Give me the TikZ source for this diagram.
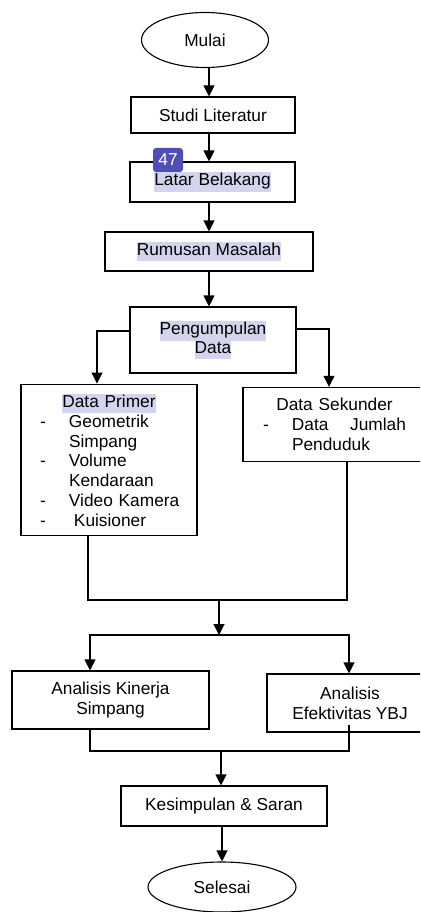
\documentclass[tikz,border=0pt]{standalone}
\usepackage{fontspec}
\setmainfont{Liberation Sans}
\usepackage{xcolor}
\usetikzlibrary{positioning, arrows.meta, calc, shapes.geometric}
\definecolor{hlcol}{HTML}{D4D4EE}
\definecolor{badgecol}{HTML}{4E4EB6}
\newcommand{\hl}[1]{{\setlength{\fboxsep}{0pt}\colorbox{hlcol}{\strut #1}}}

\begin{document}
\begin{tikzpicture}[x=1pt, y=-1pt,
    font=\fontsize{17.3}{19.8}\selectfont,
    box/.style={draw, line width=1.1pt, rectangle, align=center, inner sep=0pt},
    term/.style={draw, line width=1.1pt, ellipse, inner sep=0pt},
    arr/.style={line width=1.1pt, -{Triangle[width=11pt,length=11pt]}},
    ln/.style={line width=1.1pt}]
    \useasboundingbox (0,0) rectangle (420,912);
    \clip (0,0) rectangle (420,912);

    % Start / end
    \node[term, minimum width=127pt, minimum height=55pt] (mulai) at (205,40) {Mulai};
    \node[term, minimum width=148pt, minimum height=50pt] (selesai) at (222,887) {Selesai};

    % Main column
    \node[box, minimum width=164pt, minimum height=36pt] (studi) at (213,115) {Studi Literatur};
    \node[box, minimum width=165pt, minimum height=40pt] (latar) at (212.5,182) {\hl{Latar Belakang}};
    \node[box, minimum width=208pt, minimum height=39pt] (rumusan) at (209,251.5) {\hl{Rumusan Masalah}};
    \node[box, minimum width=166pt, minimum height=66pt] (kumpul) at (213,340) {\hl{Pengumpulan}\\[-1pt]\hl{Data}};

    % Data boxes
    \node[box, align=left, text width=138pt, inner xsep=19pt, inner ysep=9.5pt] (primer) at (109,460)
        {\makebox[138pt]{\hl{Data Primer}}\\
         \mbox{\makebox[29pt][l]{-}Geometrik}\\
         \mbox{\hspace*{29pt}Simpang}\\
         \mbox{\makebox[29pt][l]{-}Volume}\\
         \mbox{\hspace*{29pt}Kendaraan}\\
         \makebox[138pt][l]{\makebox[29pt][l]{-}Video Kamera}\\
         \mbox{\makebox[34pt][l]{-}Kuisioner}};
    \node[box, align=left, text width=143pt, inner xsep=20pt, inner ysep=11pt] (sekunder) at (334.5,424.5)
        {\makebox[143pt]{Data Sekunder}\\
         \makebox[29pt][l]{-}\makebox[114pt][s]{Data\hfill Jumlah}\\
         \mbox{\hspace*{29pt}Penduduk}};

    % Analysis boxes
    \node[box, minimum width=197pt, minimum height=58pt] (kinerja) at (110.5,700) {Analisis Kinerja\\Simpang};
    \node[box, minimum width=166pt, minimum height=58pt] (efektif) at (350,703) {Analisis\\Efektivitas YBJ};
    \node[box, minimum width=206pt, minimum height=40pt] (simpul) at (224,806) {Kesimpulan \& Saran};

    % Badge
    \node[fill=badgecol, text=white, rounded corners=3pt, minimum width=30pt, minimum height=24pt, inner sep=0pt] (badge) at (168,160) {47};

    % Junction points
    \coordinate (m1) at (219,600);
    \coordinate (s1) at (219,635);
    \coordinate (m2) at (221,751);

    % Connectors
    \draw[arr] ($(mulai.south)+(4,0)$) -- ($(studi.north)+(-4,0)$);
    \draw[arr] ($(studi.south)+(-4,0)$) -- ($(latar.north)+(-3.5,0)$);
    \draw[arr] ($(latar.south)+(-3.5,0)$) -- (rumusan.north);
    \draw[arr] (rumusan.south) -- ($(kumpul.north)+(-4,0)$);
    \draw[arr] ($(kumpul.west)+(0,-9)$) -| ($(primer.north)+(-12,0)$);
    \draw[arr] ($(kumpul.east)+(0,-11)$) -| ($(sekunder.north)+(-5.5,0)$);
    \draw[ln] ($(primer.south)+(-21,0)$) |- (m1);
    \draw[ln] ($(sekunder.south)+(12.5,0)$) |- (m1);
    \draw[arr] (m1) -- (s1);
    \draw[arr] (s1) -| ($(kinerja.north)+(-20.5,0)$);
    \draw[arr] (s1) -| ($(efektif.north)+(-1,0)$);
    \draw[ln] ($(kinerja.south)+(-20.5,0)$) |- (m2);
    \draw[ln] (349,725) |- (m2);
    \draw[arr] (m2) -- (m2 |- simpul.north);
    \draw[arr] ($(simpul.south)+(-2,0)$) -- (selesai.north);
\end{tikzpicture}
\end{document}
